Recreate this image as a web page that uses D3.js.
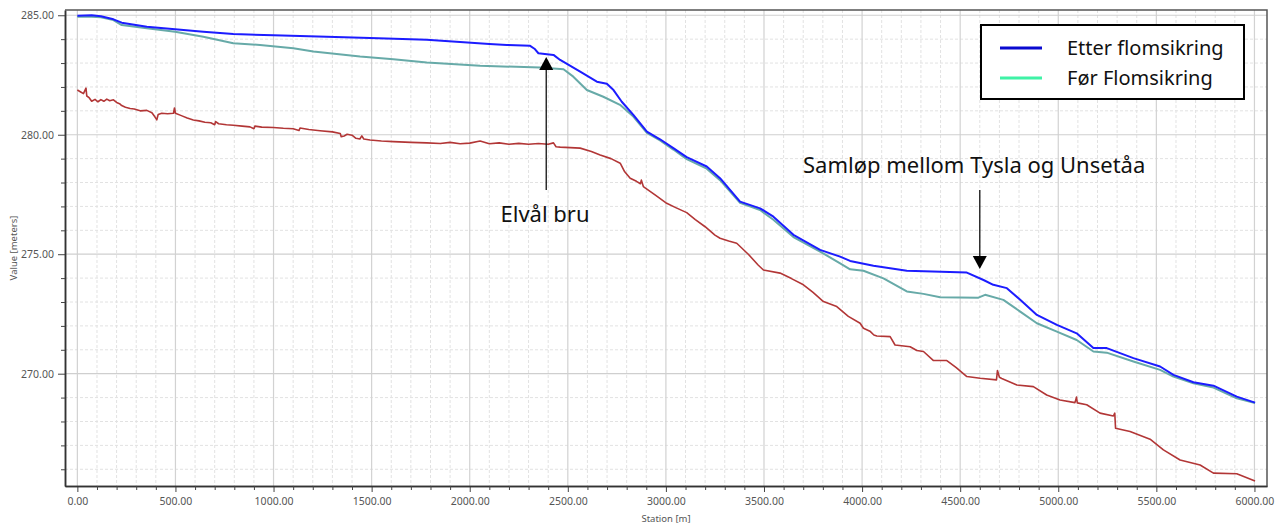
<!DOCTYPE html>
<html>
<head>
<meta charset="utf-8">
<script src="https://cdn.jsdelivr.net/npm/d3@7"></script>
<style>
  html, body { margin: 0; padding: 0; background: #fff; }
  svg { display: block; }
</style>
</head>
<body>
<svg id="chart" width="1278" height="524"></svg>
<script>
/* longitudinal profile: water level before/after flood works + river bed */

// station [m], level [m]
const etterPts = [
  [0,284.98],[73,285.0],[120,284.96],[184,284.83],[226,284.69],[354,284.52],[498,284.41],
  [642,284.31],[795,284.22],[999,284.16],[1271,284.10],[1492,284.05],[1781,283.97],[1951,283.88],
  [2100,283.80],[2189,283.76],[2308,283.72],[2330,283.60],[2350,283.41],[2427,283.34],[2461,283.13],
  [2563,282.64],[2648,282.22],[2699,282.13],[2733,281.87],[2775,281.38],[2834,280.83],[2903,280.13],
  [2970,279.81],[3038,279.44],[3106,279.06],[3208,278.67],[3276,278.18],[3378,277.20],[3480,276.92],
  [3548,276.57],[3650,275.81],[3786,275.18],[3888,274.90],[3939,274.72],[4058,274.52],[4228,274.31],
  [4534,274.23],[4619,273.92],[4669,273.72],[4738,273.58],[4806,273.09],[4891,272.46],[4993,272.04],
  [5094,271.69],[5179,271.07],[5247,271.07],[5383,270.65],[5519,270.30],[5587,269.95],[5689,269.64],
  [5791,269.50],[5910,269.04],[6003,268.79]
];

const forPts = [
  [0,284.94],[73,284.94],[120,284.92],[184,284.80],[226,284.59],[354,284.46],[498,284.31],
  [642,284.10],[795,283.83],[931,283.76],[1101,283.62],[1203,283.48],[1441,283.27],[1611,283.16],
  [1781,283.02],[2053,282.89],[2359,282.81],[2478,282.74],[2528,282.43],[2597,281.87],[2681,281.59],
  [2766,281.25],[2834,280.76],[2903,280.08],[2970,279.76],[3038,279.38],[3106,278.98],[3208,278.58],
  [3276,278.10],[3378,277.15],[3480,276.85],[3548,276.44],[3650,275.72],[3786,275.11],[3888,274.62],
  [3939,274.37],[4007,274.31],[4109,273.99],[4228,273.44],[4313,273.34],[4398,273.20],[4593,273.18],
  [4627,273.30],[4720,273.09],[4806,272.60],[4891,272.11],[4993,271.76],[5094,271.41],[5179,270.93],
  [5247,270.88],[5383,270.51],[5519,270.16],[5587,269.88],[5689,269.60],[5791,269.42],[5910,268.97],
  [6003,268.77]
];

const bunnPts = [
  [0,281.87],[15,281.80],[31,281.72],[44,281.95],[48,281.62],[60,281.55],[73,281.40],[90,281.48],
  [105,281.38],[120,281.47],[135,281.40],[150,281.49],[165,281.42],[184,281.46],[200,281.35],
  [215,281.30],[226,281.22],[245,281.15],[269,281.10],[290,281.08],[320,281.00],[354,281.02],
  [380,280.92],[395,280.75],[405,280.62],[412,280.85],[430,280.90],[460,280.88],[490,280.90],
  [495,281.12],[500,280.90],[530,280.80],[560,280.70],[591,280.62],[620,280.58],[650,280.52],
  [680,280.50],[700,280.42],[705,280.55],[720,280.46],[760,280.42],[795,280.40],[840,280.36],
  [880,280.33],[900,280.25],[905,280.36],[940,280.32],[999,280.30],[1050,280.27],[1100,280.25],
  [1130,280.18],[1135,280.28],[1180,280.22],[1237,280.17],[1300,280.12],[1340,280.05],[1345,279.92],
  [1360,279.95],[1375,280.02],[1400,279.98],[1420,279.85],[1440,279.82],[1450,279.95],[1460,279.82],
  [1492,279.78],[1550,279.74],[1611,279.71],[1700,279.68],[1781,279.66],[1850,279.63],[1900,279.68],
  [1951,279.62],[2000,279.65],[2053,279.74],[2100,279.62],[2150,279.66],[2200,279.60],[2250,279.64],
  [2300,279.60],[2350,279.63],[2400,279.60],[2427,279.66],[2440,279.50],[2461,279.48],[2563,279.44],
  [2620,279.30],[2665,279.15],[2720,279.00],[2767,278.81],[2790,278.45],[2818,278.18],[2850,278.05],
  [2870,277.95],[2875,278.10],[2885,277.83],[2950,277.45],[3004,277.13],[3050,276.95],[3106,276.74],
  [3150,276.45],[3200,276.15],[3250,275.80],[3276,275.67],[3320,275.55],[3361,275.46],[3420,275.00],
  [3470,274.55],[3497,274.34],[3582,274.21],[3640,273.98],[3701,273.72],[3750,273.40],[3803,273.02],
  [3871,272.81],[3930,272.40],[3990,272.11],[4007,271.90],[4040,271.78],[4060,271.62],[4075,271.58],
  [4143,271.55],[4168,271.20],[4245,271.13],[4279,270.97],[4313,270.93],[4364,270.55],[4432,270.55],
  [4480,270.25],[4534,269.88],[4602,269.81],[4685,269.74],[4690,270.13],[4700,269.85],[4712,269.80],
  [4789,269.53],[4873,269.46],[4941,269.11],[5009,268.90],[5085,268.79],[5093,269.02],[5097,268.78],
  [5145,268.70],[5213,268.35],[5281,268.23],[5288,268.35],[5292,267.72],[5366,267.58],[5468,267.26],
  [5536,266.81],[5621,266.39],[5723,266.18],[5791,265.84],[5910,265.81],[6003,265.51]
];

const xTicks = [0, 500, 1000, 1500, 2000, 2500, 3000, 3500, 4000, 4500, 5000, 5500, 6000];
const yTicks = [270, 275, 280, 285];

const legendItems = [
  { label: "Etter flomsikring", color: "#0a0ad0" },
  { label: "Før Flomsikring", color: "#3ff2a6" }
];

const notes = [
  { text: "Elvål bru", station: 2390, textX: 545, textY: 222, from: 190, to: 57, anchor: "middle" },
  { text: "Samløp mellom Tysla og Unsetåa", station: 4600, textX: 803, textY: 173, from: 190, to: 269, anchor: "start" }
];

(function () {
  const svg = d3.select("#chart");
  const W = 1278, H = 524;
  const left = 65, right = 1267, top = 10, bottom = 486;

  const x = d3.scaleLinear().domain([-63, 6064]).range([left, right]);
  const y = d3.scaleLinear().domain([265.3, 285.22]).range([bottom, top]);

  const minorX = d3.range(0, 6001, 100).filter(v => v % 500 !== 0);
  const minorY = d3.range(266, 286, 1).filter(v => v % 5 !== 0 && v <= 285);

  svg.append("rect").attr("width", W).attr("height", H).attr("fill", "#fff");

  // -----------------------------
  // grid
  // -----------------------------
  const grid = svg.append("g");
  grid.selectAll("line.mx").data(minorX).enter().append("line")
    .attr("x1", d => x(d)).attr("x2", d => x(d)).attr("y1", top).attr("y2", bottom)
    .attr("stroke", "#e2e2e2").attr("stroke-dasharray", "3,2");
  grid.selectAll("line.my").data(minorY).enter().append("line")
    .attr("y1", d => y(d)).attr("y2", d => y(d)).attr("x1", left).attr("x2", right)
    .attr("stroke", "#e2e2e2").attr("stroke-dasharray", "3,2");
  grid.selectAll("line.Mx").data(xTicks).enter().append("line")
    .attr("x1", d => x(d)).attr("x2", d => x(d)).attr("y1", top).attr("y2", bottom)
    .attr("stroke", "#d2d2d2").attr("stroke-width", 1.2);
  grid.selectAll("line.My").data(yTicks).enter().append("line")
    .attr("y1", d => y(d)).attr("y2", d => y(d)).attr("x1", left).attr("x2", right)
    .attr("stroke", "#cfcfcf").attr("stroke-width", 1.2);

  // -----------------------------
  // axes
  // -----------------------------
  const fmt = d3.format(".2f");
  const font = "'Noto Sans', 'Open Sans', sans-serif";

  const xAxis = svg.append("g").attr("transform", `translate(0,${bottom})`)
    .call(d3.axisBottom(x).tickValues(xTicks).tickFormat(fmt).tickSize(6).tickSizeOuter(0));
  svg.append("g").attr("transform", `translate(0,${bottom})`)
    .call(d3.axisBottom(x).tickValues(minorX).tickFormat("").tickSize(4).tickSizeOuter(0));

  const yAxis = svg.append("g").attr("transform", `translate(${left},0)`)
    .call(d3.axisLeft(y).tickValues(yTicks).tickFormat(fmt).tickSize(7).tickSizeOuter(0));
  svg.append("g").attr("transform", `translate(${left},0)`)
    .call(d3.axisLeft(y).tickValues(minorY).tickFormat("").tickSize(4).tickSizeOuter(0));

  svg.selectAll(".domain").attr("stroke", "#333").attr("stroke-width", 1.5);
  svg.selectAll(".tick line").attr("stroke", "#444");
  [xAxis, yAxis].forEach(a => a.selectAll("text")
    .attr("font-family", font).attr("font-size", 10.5).attr("fill", "#555"));
  xAxis.selectAll("text").attr("dy", "0.95em");
  yAxis.selectAll("text").attr("dx", "-0.1em");

  // frame top/right
  svg.append("path")
    .attr("d", `M${left},${top}H${right}V${bottom}`)
    .attr("fill", "none").attr("stroke", "#555").attr("stroke-width", 1.5);

  svg.append("text")
    .attr("x", (left + right) / 2).attr("y", 522)
    .attr("text-anchor", "middle")
    .attr("font-family", font).attr("font-size", 9.5).attr("fill", "#555")
    .text("Station [m]");

  svg.append("text")
    .attr("transform", `translate(17,${(top + bottom) / 2}) rotate(-90)`)
    .attr("text-anchor", "middle")
    .attr("font-family", font).attr("font-size", 9.5).attr("fill", "#555")
    .text("Value [meters]");

  // -----------------------------
  // lines
  // -----------------------------
  const line = d3.line().x(d => x(d[0])).y(d => y(d[1]));

  svg.append("path").datum(bunnPts).attr("d", line)
    .attr("fill", "none").attr("stroke", "#b23636").attr("stroke-width", 1.6)
    .attr("stroke-linejoin", "round");
  svg.append("path").datum(forPts).attr("d", line)
    .attr("fill", "none").attr("stroke", "#67aaa8").attr("stroke-width", 2)
    .attr("stroke-linejoin", "round");
  svg.append("path").datum(etterPts).attr("d", line)
    .attr("fill", "none").attr("stroke", "#1c1cff").attr("stroke-width", 2)
    .attr("stroke-linejoin", "round");

  // -----------------------------
  // annotations
  // -----------------------------
  notes.forEach(n => {
    const ax = x(n.station);
    const dir = n.to < n.from ? -1 : 1;
    const base = n.to - dir * 13;
    svg.append("line")
      .attr("x1", ax).attr("x2", ax).attr("y1", n.from).attr("y2", base)
      .attr("stroke", "#111").attr("stroke-width", 1.3);
    svg.append("path")
      .attr("d", `M${ax},${n.to}L${ax - 7},${base}L${ax + 7},${base}Z`)
      .attr("fill", "#000");
    svg.append("text")
      .attr("x", n.textX).attr("y", n.textY)
      .attr("text-anchor", n.anchor)
      .attr("font-family", font).attr("font-size", 22).attr("fill", "#111")
      .text(n.text);
  });

  // -----------------------------
  // legend
  // -----------------------------
  const lg = svg.append("g").attr("transform", "translate(981,25)");
  lg.append("rect").attr("width", 263).attr("height", 74)
    .attr("fill", "#fff").attr("stroke", "#000").attr("stroke-width", 2);
  legendItems.forEach((d, i) => {
    const cy = 23 + i * 30;
    lg.append("line").attr("x1", 19).attr("x2", 61).attr("y1", cy).attr("y2", cy)
      .attr("stroke", d.color).attr("stroke-width", 3);
    lg.append("text").attr("x", 86).attr("y", cy + 7)
      .attr("font-family", font).attr("font-size", 20).attr("fill", "#111")
      .text(d.label);
  });
})();
</script>
</body>
</html>
